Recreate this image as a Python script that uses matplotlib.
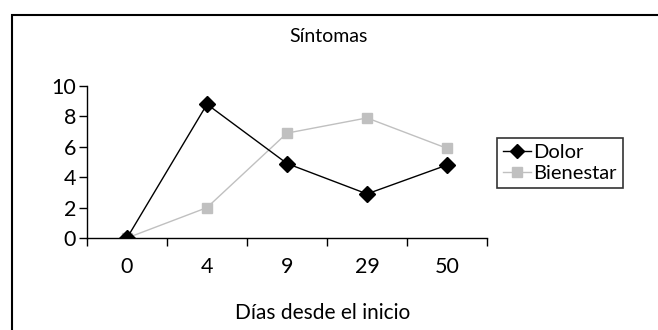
import matplotlib
matplotlib.use("Agg")
import matplotlib.pyplot as plt
from matplotlib.patches import Rectangle

plt.rcParams['font.family'] = ['Lato', 'DejaVu Sans']

dias = ["0", "4", "9", "29", "50"]
dolor = [0, 8.8, 4.9, 2.9, 4.8]
bienestar = [0, 2.0, 6.9, 7.9, 5.9]

fig = plt.figure(figsize=(6.58, 3.30), dpi=100)
ax = fig.add_axes([87/658, 1 - 238/330, 400/658, 152/330])

x = range(len(dias))
ax.plot(x, dolor, color='black', lw=1, marker='D', ms=8, mfc='black', mec='black',
        label='Dolor', zorder=3)
ax.plot(x, bienestar, color='#c0c0c0', lw=1, marker='s', ms=7.5, mfc='#c0c0c0', mec='#c0c0c0',
        label='Bienestar', zorder=2)

ax.set_xlim(-0.5, len(dias) - 0.5)
ax.set_ylim(0, 10)
ax.set_yticks(range(0, 11, 2))
ax.set_xticks([i - 0.5 for i in range(len(dias) + 1)], minor=False)
ax.set_xticklabels([])
ax.set_xticks(list(x), minor=True)
ax.set_xticklabels(dias, minor=True)
ax.tick_params(axis='x', which='major', direction='out', length=6, width=1, color='black')
ax.tick_params(axis='x', which='minor', length=0, pad=14, labelsize=15.5)
ax.tick_params(axis='y', direction='out', length=6, width=1, labelsize=15.5, pad=2)

for s in ['top', 'right']:
    ax.spines[s].set_visible(False)
for s in ['left', 'bottom']:
    ax.spines[s].set_linewidth(1)
ax.spines['left'].set_bounds(0, 10)
ax.patch.set_alpha(0)

fig.text(329/658, 1 - 37/330, "Síntomas", ha='center', va='center', fontsize=14)
fig.text(323/658, 1 - 313/330, "Días desde el inicio", ha='center', va='center', fontsize=15)

leg = ax.legend(loc='upper left', bbox_to_anchor=(497/658, 1 - 138/330),
                bbox_transform=fig.transFigure, frameon=True, fancybox=False,
                fontsize=14.5, handlelength=1.4, handletextpad=0.1, borderpad=0.3,
                labelspacing=0.2, borderaxespad=0, markerscale=0.9)
leg.get_frame().set_edgecolor('black')
leg.get_frame().set_linewidth(1.2)

# marco exterior
fig.patches.append(Rectangle((12/658, -0.1), 1.2, 1 - 15/330 + 0.1, transform=fig.transFigure,
                             fill=False, edgecolor='black', lw=1.5))

fig.savefig("out.png", dpi=100)
